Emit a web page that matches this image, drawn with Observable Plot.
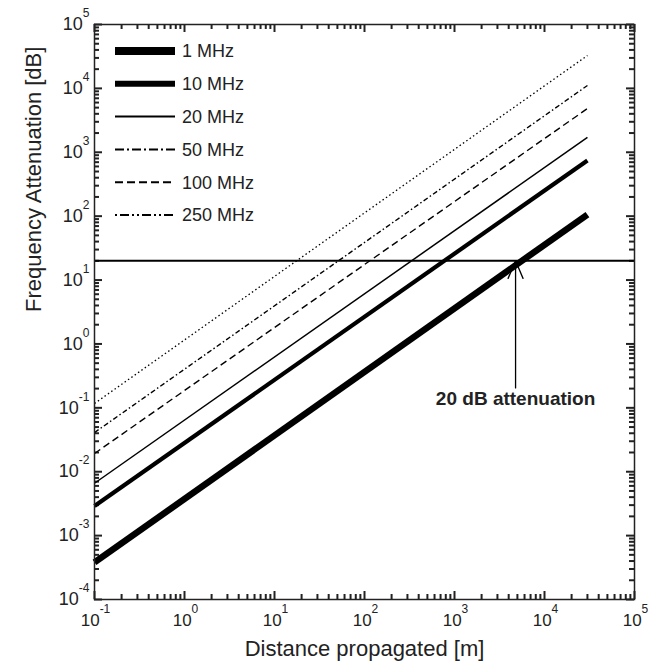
<!DOCTYPE html>
<html><head><meta charset="utf-8">
<script src="https://cdn.jsdelivr.net/npm/d3@7"></script>
<script src="https://cdn.jsdelivr.net/npm/@observablehq/plot@0.6"></script>
<style>
body{margin:0;background:#fff;}
#chart{position:relative;width:649px;height:667px;}
</style>
</head><body><div id="chart"></div>
<script>
// ---- data ----
const seriesNames = ["1 MHz","10 MHz","20 MHz","50 MHz","100 MHz","250 MHz"];
const distances = [0.1, 30000];              // m
const att1MHz   = [3.8e-4, 106];             // dB
const att10MHz  = [2.9e-3, 745];
const att20MHz  = [6.6e-3, 1710];
const att50MHz  = [1.93e-2, 4840];
const att100MHz = [4.1e-2, 11100];
const att250MHz = [0.117, 32700];
const xMajorTicks = [1e-1,1e0,1e1,1e2,1e3,1e4,1e5];
const yMajorTicks = [1e-4,1e-3,1e-2,1e-1,1e0,1e1,1e2,1e3,1e4,1e5];
const thresholdDb = [20];
const annotationLabel = ["20 dB attenuation"];
const annotationX = [4770];        // distance where arrow points
const annotationYArrow = [0.205, 20];
const annotationYText = [0.14];
const xLabel = "Distance propagated [m]";
const yLabel = "Frequency Attenuation [dB]";

// ---- styles (kept separate) ----
const lineStyles = [
  {strokeWidth: 6.5},
  {strokeWidth: 4.2},
  {strokeWidth: 1.5},
  {strokeWidth: 1.4, strokeDasharray: "7,4"},
  {strokeWidth: 1.4, strokeDasharray: "5,2.5,1.5,2.5"},
  {strokeWidth: 1.3, strokeDasharray: "1.5,2.6"}
];
const legendStyles = [
  {w: 8}, {w: 6}, {w: 2},
  {w: 2, dash: "9,3,2,3"},
  {w: 2, dash: "8,4"},
  {w: 2, dash: "2,3,9,3,2,3"}
];

const allValues = [att1MHz, att10MHz, att20MHz, att50MHz, att100MHz, att250MHz];
const rows = seriesNames.map((s, i) => distances.map((d, j) => ({series: s, distance: d, att: allValues[i][j]})));

function minorTicks(lo, hi) {
  const out = [];
  for (let k = lo; k < hi; k++) for (let m = 2; m <= 9; m++) out.push(m * Math.pow(10, k));
  return out;
}
const xMinor = minorTicks(-1, 5);
const yMinor = minorTicks(-4, 5);

const W = 649, H = 667, mL = 94, mR = 15, mT = 24, mB = 68;
const iw = W - mL - mR, ih = H - mT - mB;
const xDom = [0.1, 1e5], yDom = [1e-4, 1e5];
const fmt = d => "10^" + Math.round(Math.log10(d));
const tickColor = "#222";
const tw = 2;

function xTicks(data, len) {
  return [
    Plot.ruleX(data, {insetTop: ih - len, stroke: tickColor, strokeWidth: tw}),
    Plot.ruleX(data, {insetBottom: ih - len, stroke: tickColor, strokeWidth: tw})
  ];
}
function yTicks(data, len) {
  return [
    Plot.ruleY(data, {insetRight: iw - len, stroke: tickColor, strokeWidth: tw}),
    Plot.ruleY(data, {insetLeft: iw - len, stroke: tickColor, strokeWidth: tw})
  ];
}

const plot = Plot.plot({
  width: W, height: H,
  marginLeft: mL, marginRight: mR, marginTop: mT, marginBottom: mB,
  style: {fontFamily: "'Liberation Sans', Arial, sans-serif", color: "#222", background: "#fff"},
  x: {type: "log", domain: xDom, axis: null},
  y: {type: "log", domain: yDom, axis: null},
  marks: [
    ...xTicks(xMajorTicks, 8), ...xTicks(xMinor, 5),
    ...yTicks(yMajorTicks, 8), ...yTicks(yMinor, 5),
    Plot.axisX(xMajorTicks, {anchor: "bottom", tickSize: 0, tickPadding: 14, tickFormat: fmt, fontSize: 17, label: null}),
    Plot.axisY(yMajorTicks, {anchor: "left", tickSize: 0, tickPadding: 5, tickFormat: fmt, fontSize: 18, label: null}),
    // series
    ...rows.map((r, i) => Plot.line(r, {x: "distance", y: "att", stroke: "#000", strokeLinecap: "butt", ...lineStyles[i]})),
    // 20 dB threshold
    Plot.ruleY(thresholdDb, {stroke: "#000", strokeWidth: 2}),
    Plot.arrow([0], {x1: () => annotationX[0], x2: () => annotationX[0], y1: () => annotationYArrow[0], y2: () => annotationYArrow[1], stroke: "#000", strokeWidth: 1.3, headLength: 22, headAngle: 46}),
    Plot.text(annotationLabel, {x: () => annotationX[0], y: () => annotationYText[0], text: d => d, fontSize: 19, fontWeight: "bold", fill: "#222"}),
    Plot.text([xLabel], {frameAnchor: "bottom", dy: 56, text: d => d, fontSize: 22, fill: "#222"}),
    Plot.text([yLabel], {frameAnchor: "left", dx: -61, rotate: -90, text: d => d, fontSize: 22, fill: "#222"}),
    Plot.frame({stroke: "#222", strokeWidth: 1.5})
  ]
});

// superscript the tick labels
d3.select(plot).selectAll("text").each(function() {
  const t = this.textContent;
  const m = /^10\^(-?\d+)$/.exec(t);
  if (!m) return;
  const el = d3.select(this);
  el.text("");
  el.append("tspan").text("10");
  el.append("tspan").attr("dy", "-13").attr("font-size", "12").text(m[1]);
});
d3.select(plot).selectAll('g[aria-label="x-axis tick label"] text').attr("dx", 1);

// legend (inside the plot area, top-left)
const lg = d3.select(plot).append("g")
  .attr("font-family", "'Liberation Sans', Arial, sans-serif")
  .attr("font-size", 18).attr("fill", "#222").attr("text-anchor", "start");
seriesNames.forEach((s, i) => {
  const y = 51 + i * 32.8;
  const st = legendStyles[i];
  lg.append("line").attr("x1", 115).attr("x2", 175).attr("y1", y).attr("y2", y)
    .attr("stroke", "#000").attr("stroke-width", st.w).attr("stroke-dasharray", st.dash || null);
  lg.append("text").attr("x", 182).attr("y", y).attr("dy", "0.35em").attr("text-anchor", "start").text(s);
});

document.getElementById("chart").appendChild(plot);
</script>
</body></html>
